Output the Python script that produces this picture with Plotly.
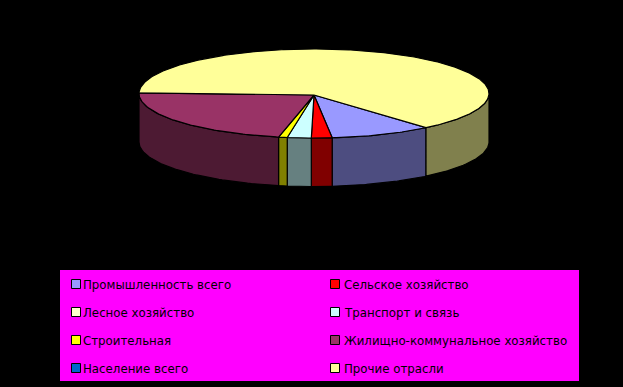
import numpy as np
import plotly.graph_objects as go

categories = ["Промышленность всего", "Сельское хозяйство", "Лесное хозяйство",
              "Транспорт и связь", "Строительная", "Жилищно-коммунальное хозяйство",
              "Население всего", "Прочие отрасли"]
values = [9.4, 1.9, 0.0, 2.2, 0.8, 22.0, 0.0, 63.7]
top_colors = ["#9999FF", "#FF0000", "#FFFFCC", "#CCFFFF", "#FFFF00", "#993366", "#0066CC", "#FFFF99"]
side_colors = ["#4D4D80", "#800000", "#808066", "#668080", "#808000", "#4D1A33", "#003366", "#80804D"]

W, H = 623, 387
CX, CY, RX, RY, DEPTH, APEX_Y = 314, 93.5, 175, 44.5, 48.5, 95
START = 39.8  # degrees from the front of the ellipse, first slice begins here
LEG = dict(x0=60, x1=579, y0=270, y1=381, col=[76, 335], row0=284.5, dy=28, text=[5, 6.5])


def rim(phi):
    p = np.radians(phi)
    return CX + RX * np.sin(p), CY + RY * np.cos(p)


fig = go.Figure()
frac = 360 * np.array(values) / sum(values)
ends = START - np.cumsum(frac)
starts = ends + frac


def poly(x, y, color):
    fig.add_trace(go.Scatter(x=list(x), y=list(y), mode="lines", fill="toself", fillcolor=color,
                             line=dict(color="black", width=1.2), hoverinfo="skip", showlegend=False))


# side walls (front half only)
for a, b, c in zip(starts, ends, side_colors):
    for lo, hi in [(-90, 90), (-450, -270)]:
        s, e = min(a, hi), max(b, lo)
        if s > e:
            ph = np.linspace(s, e, 60)
            x, y = rim(ph)
            poly(np.r_[x, x[::-1], x[0]], np.r_[y, y[::-1] + DEPTH, y[0]], c)
# top face
for a, b, c, v in zip(starts, ends, top_colors, values):
    if v > 0:
        ph = np.linspace(a, b, max(3, int(abs(a - b) * 1.5)))
        x, y = rim(ph)
        poly(np.r_[CX, x, CX], np.r_[APEX_Y, y, APEX_Y], c)

# legend
fig.add_shape(type="rect", x0=LEG["x0"], x1=LEG["x1"], y0=LEG["y0"], y1=LEG["y1"],
              fillcolor="#FF00FF", line_width=0, layer="below")
for i, (name, c) in enumerate(zip(categories, top_colors)):
    col, row = i % 2, i // 2
    y = LEG["row0"] + row * LEG["dy"]
    x = LEG["col"][col]
    fig.add_trace(go.Scatter(x=[x], y=[y - 0.5], mode="markers", hoverinfo="skip", showlegend=False,
                             marker=dict(symbol="square", size=9, color=c, line=dict(color="black", width=1))))
    fig.add_annotation(x=x + LEG["text"][col], y=y, text=name, showarrow=False, xanchor="left", yanchor="middle",
                       font=dict(family="DejaVu Sans", size=11.8, color="black"))

fig.update_layout(width=W, height=H, margin=dict(l=0, r=0, t=0, b=0), paper_bgcolor="black",
                  plot_bgcolor="black", showlegend=False,
                  xaxis=dict(range=[0, W], visible=False, fixedrange=True),
                  yaxis=dict(range=[H, 0], visible=False, fixedrange=True))
fig.write_html("out.html", config={"displayModeBar": False},
               post_script="document.body.style.margin='0';document.body.style.background='black';"
                           "document.body.style.overflow='hidden';")
